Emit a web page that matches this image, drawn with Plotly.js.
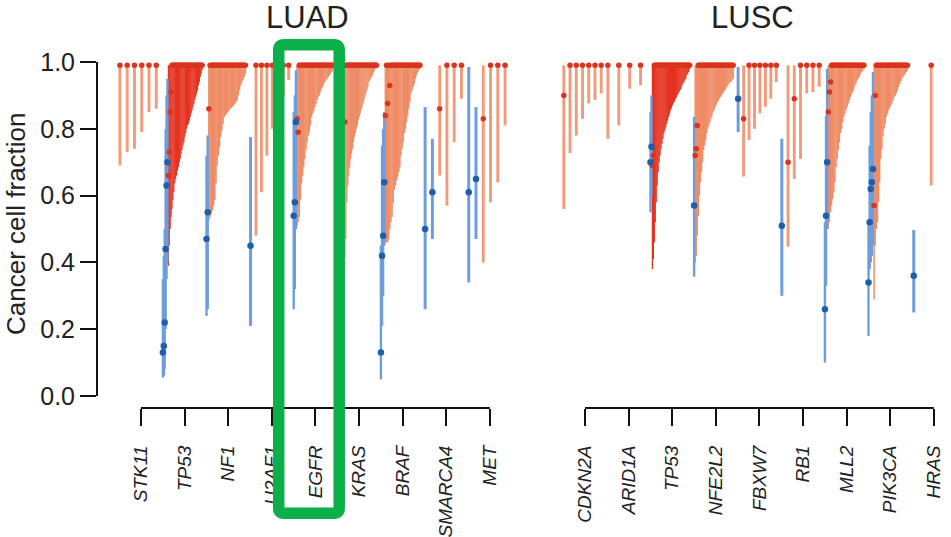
<!DOCTYPE html>
<html><head><meta charset="utf-8">
<script src="https://cdn.plot.ly/plotly-3.0.1.min.js"></script>
<style>html,body{margin:0;padding:0;background:#fff}#chart{width:951px;height:537px}</style>
</head><body><div id="chart"></div>
<script>
// ---------------- DATA ----------------
const clonalTop = 0.99;
const yTicks = [0, 0.2, 0.4, 0.6, 0.8, 1.0];

// LUAD
const luadGenes = ['STK11','TP53','NF1','U2AF1','EGFR','KRAS','BRAF','SMARCA4','MET'];
// subclonal mutations (blue): [estimate, lower, upper]
const luadSubclonal = [
  [],
  [[0.13,0.055,0.35],[0.15,0.06,0.42],[0.22,0.08,0.5],[0.44,0.2,0.8],[0.63,0.35,0.9],[0.70,0.4,0.95]],
  [[0.47,0.24,0.72],[0.55,0.26,0.78]],
  [[0.45,0.21,0.775]],
  [[0.54,0.26,0.85],[0.58,0.32,0.9],[0.82,0.5,0.975]],
  [],
  [[0.13,0.05,0.45],[0.42,0.21,0.75],[0.48,0.30,0.8],[0.64,0.45,0.85]],
  [[0.50,0.26,0.865],[0.61,0.47,0.77]],
  [[0.61,0.34,0.985],[0.65,0.47,0.865]]
];
// clonal mutations (red): lower bound of the interval (upper bound = clonalTop)
const luadClonalLow = [
  [0.69,0.73,0.74,0.79,0.85,0.86],
  [0.39,0.45,0.50,0.536,0.56,0.587,0.61,0.637,0.65,0.66,0.675,0.686,0.70,0.71,0.725,0.737,0.75,0.76,0.775,0.787,0.80,0.81,0.815,0.825,0.835,0.845,0.855,0.865,0.875,0.886,0.895,0.905,0.915,0.93,0.94,0.955,0.965,0.975],
  [0.527,0.535,0.545,0.555,0.57,0.587,0.637,0.69,0.72,0.745,0.775,0.795,0.815,0.835,0.84,0.845,0.85,0.855,0.86,0.862,0.866,0.87,0.875,0.88,0.886,0.90,0.915,0.93,0.94,0.945,0.955,0.965],
  [0.48,0.61,0.72,0.80,0.86,0.90,0.946],
  [0.51,0.52,0.536,0.587,0.637,0.66,0.686,0.71,0.737,0.76,0.78,0.79,0.81,0.835,0.845,0.855,0.865,0.875,0.886,0.895,0.90,0.91,0.92,0.925,0.935,0.94,0.945,0.95,0.955,0.96,0.965,0.97,0.975],
  [0.30,0.33,0.35,0.37,0.38,0.39,0.40,0.41,0.415,0.47,0.58,0.63,0.66,0.685,0.71,0.725,0.74,0.76,0.775,0.787,0.80,0.81,0.825,0.835,0.845,0.855,0.865,0.875,0.886,0.895,0.905,0.915,0.925,0.94,0.945,0.95,0.955,0.96,0.97,0.975,0.98,0.985],
  [0.46,0.46,0.46,0.47,0.50,0.52,0.536,0.577,0.617,0.63,0.645,0.656,0.67,0.686,0.72,0.74,0.76,0.787,0.80,0.82,0.84,0.86,0.88,0.905,0.915,0.925,0.935,0.95,0.96,0.97,0.975,0.98],
  [0.66,0.57,0.76,0.89],
  [0.40,0.58,0.64,0.81]
];
// clonal estimates below the top: [index in the gene's clonal list, estimate]
const luadClonalEst = [
  [], [[0,0.66],[1,0.73],[2,0.85],[3,0.91]], [[0,0.86]], [], [[0,0.83],[1,0.79]],
  [[8,0.82]], [[0,0.84],[2,0.876],[4,0.93]], [[0,0.86]], [[0,0.83]]
];

// LUSC
const luscGenes = ['CDKN2A','ARID1A','TP53','NFE2L2','FBXW7','RB1','MLL2','PIK3CA','HRAS'];
const luscSubclonal = [
  [],
  [],
  [[0.70,0.55,0.85],[0.746,0.6,0.9]],
  [[0.57,0.357,0.836]],
  [[0.89,0.79,0.985]],
  [[0.51,0.30,0.77]],
  [[0.26,0.10,0.52],[0.54,0.33,0.84],[0.70,0.50,0.98]],
  [[0.34,0.18,0.52],[0.52,0.38,0.75],[0.62,0.40,0.85],[0.64,0.42,0.90],[0.68,0.45,0.97]],
  [[0.36,0.25,0.497]]
];
const luscClonalLow = [
  [0.56,0.727,0.78,0.83,0.876,0.886,0.906],
  [0.77,0.81,0.92,0.93],
  [0.38,0.41,0.46,0.52,0.58,0.63,0.67,0.70,0.72,0.74,0.755,0.77,0.785,0.795,0.805,0.815,0.825,0.835,0.845,0.855,0.862,0.87,0.876,0.882,0.888,0.894,0.90,0.905,0.91,0.916,0.92,0.93,0.935,0.94,0.945,0.95,0.96,0.965,0.97,0.98],
  [0.40,0.42,0.48,0.54,0.60,0.64,0.67,0.70,0.737,0.75,0.765,0.787,0.80,0.81,0.82,0.83,0.84,0.85,0.856,0.865,0.872,0.88,0.885,0.89,0.895,0.90,0.905,0.91,0.915,0.92,0.925,0.93,0.935,0.94,0.94,0.945,0.95],
  [0.657,0.766,0.80,0.846,0.866,0.89,0.94],
  [0.447,0.65,0.71,0.906,0.91,0.926],
  [0.50,0.52,0.55,0.57,0.59,0.61,0.64,0.686,0.71,0.737,0.76,0.787,0.80,0.82,0.836,0.846,0.856,0.866,0.876,0.886,0.895,0.905,0.91,0.92,0.93,0.937,0.945,0.95,0.955,0.965,0.97,0.975,0.98],
  [0.29,0.45,0.50,0.52,0.58,0.64,0.71,0.74,0.777,0.80,0.815,0.836,0.845,0.855,0.862,0.87,0.876,0.885,0.895,0.90,0.906,0.915,0.925,0.935,0.942,0.95,0.955,0.96,0.965,0.97,0.975],
  [0.63]
];
const luscClonalEst = [
  [[0,0.90]], [], [[0,0.69],[1,0.72]], [[0,0.72],[1,0.74],[2,0.81]], [[0,0.83]],
  [[0,0.70],[1,0.89]], [[0,0.85],[1,0.91],[2,0.94]], [[0,0.57],[1,0.90]], []
];

// ---------------- STYLE / LAYOUT ----------------
const W = 951, H = 537;
const UNIT = 43.6;                 // pixels per gene slot
const px = v => v / W, py = v => 1 - v / H;
const C = {
  tp53: '#e5321f', salmonDense: '#ef8c66', salmonLight: '#f29a79',
  blueLine: '#6d9edb', blueDot: '#1f5faa', redDot: '#d9341f', ink: '#222'
};

function buildPanel(genes, sub, low, ests, xa) {
  const cl = {x:[], base:[], y:[], w:[], c:[]};
  const sb = {x:[], base:[], y:[], w:[]};
  const rd = {x:[], y:[]}, bd = {x:[], y:[]};
  genes.forEach((gene, g) => {
    const s = sub[g], c = low[g];
    const n = s.length + c.length;
    const dense = n > 12;
    const step = dense ? 0.92 / n : 1 / Math.max(n, 2.5);
    const em = {}; ests[g].forEach(([i, e]) => em[i] = e);
    s.forEach(([e, lo, hi], i) => {
      const x = g + (i + 0.1) * step;
      sb.x.push(x); sb.base.push(lo); sb.y.push(hi - lo); sb.w.push((dense ? 2.4 : 3) / UNIT);
      bd.x.push(x); bd.y.push(e);
    });
    c.forEach((lo, j) => {
      const x = g + (s.length + j + 0.1) * step;
      cl.x.push(x); cl.base.push(lo); cl.y.push(clonalTop - lo);
      cl.w.push(dense ? step * 1.35 : 2.9 / UNIT);
      cl.c.push(gene === 'TP53' ? C.tp53 : (dense ? C.salmonDense : C.salmonLight));
      rd.x.push(x); rd.y.push(em[j] !== undefined ? em[j] : clonalTop);
    });
  });
  return [
    {type:'bar', xaxis:xa, yaxis:'y', x:cl.x, base:cl.base, y:cl.y, width:cl.w,
     marker:{color:cl.c, line:{width:0}}, hoverinfo:'skip'},
    {type:'bar', xaxis:xa, yaxis:'y', x:sb.x, base:sb.base, y:sb.y, width:sb.w,
     marker:{color:C.blueLine, line:{width:0}}, hoverinfo:'skip'},
    {type:'scatter', mode:'markers', xaxis:xa, yaxis:'y', x:rd.x, y:rd.y, cliponaxis:false,
     marker:{color:C.redDot, size:5.5}, hoverinfo:'skip'},
    {type:'scatter', mode:'markers', xaxis:xa, yaxis:'y', x:bd.x, y:bd.y, cliponaxis:false,
     marker:{color:C.blueDot, size:6.5}, hoverinfo:'skip'}
  ];
}

const traces = [
  ...buildPanel(luadGenes, luadSubclonal, luadClonalLow, luadClonalEst, 'x'),
  ...buildPanel(luscGenes, luscSubclonal, luscClonalLow, luscClonalEst, 'x2')
];

const geneFont = {family:'Liberation Sans, Arial, sans-serif', size:19, color:C.ink, style:'italic'};
function geneAxis(genes, domL, domR, origin) {
  return {
    domain:[px(domL), px(domR)], range:[(domL - origin) / UNIT, (domR - origin) / UNIT],
    anchor:'free', position:py(408),
    tickmode:'array', tickvals:genes.map((_, i) => i + 0.5), ticktext:genes,
    tickangle:-90, ticks:'outside', ticklen:17, tickwidth:2, tickcolor:'#111',
    ticklabelstandoff:12, tickfont:geneFont,
    showline:false, showgrid:false, zeroline:false, fixedrange:true, automargin:false
  };
}

function roundRect(x0, y0, x1, y1, r) {
  const P = (x, y) => px(x) + ',' + py(y);
  return 'M' + P(x0 + r, y0) + ' L' + P(x1 - r, y0) + ' Q' + P(x1, y0) + ' ' + P(x1, y0 + r) +
    ' L' + P(x1, y1 - r) + ' Q' + P(x1, y1) + ' ' + P(x1 - r, y1) +
    ' L' + P(x0 + r, y1) + ' Q' + P(x0, y1) + ' ' + P(x0, y1 - r) +
    ' L' + P(x0, y0 + r) + ' Q' + P(x0, y0) + ' ' + P(x0 + r, y0) + ' Z';
}

const layout = {
  width:W, height:H, margin:{l:0, r:0, t:0, b:0},
  paper_bgcolor:'#fff', plot_bgcolor:'rgba(0,0,0,0)',
  showlegend:false, barmode:'overlay',
  font:{family:'Liberation Sans, Arial, sans-serif', color:C.ink},
  xaxis: geneAxis(luadGenes, 98, 515, 119.2),
  xaxis2: geneAxis(luscGenes, 550, 951, 563.2),
  yaxis:{
    domain:[py(396), py(62)], range:[0, 1], anchor:'x',
    tickmode:'array', tickvals:yTicks, tickformat:'.1f',
    ticks:'outside', ticklen:16, tickwidth:2, tickcolor:'#111',
    showline:true, linewidth:2, linecolor:'#111',
    showgrid:false, zeroline:false, fixedrange:true, automargin:false,
    tickfont:{family:'Liberation Sans, Arial, sans-serif', size:25, color:C.ink}
  },
  shapes:[
    {type:'line', xref:'x', yref:'paper', x0:0.5, x1:8.5, y0:py(408), y1:py(408), line:{color:'#111', width:2}},
    {type:'line', xref:'x2', yref:'paper', x0:0.5, x1:8.5, y0:py(408), y1:py(408), line:{color:'#111', width:2}},
    {type:'path', xref:'paper', yref:'paper', path:roundRect(278.7, 44.7, 339.2, 513.3, 5),
     line:{color:'#0cb04a', width:11.5}, fillcolor:'rgba(0,0,0,0)'}
  ],
  annotations:[
    {text:'LUAD', xref:'paper', yref:'paper', x:px(307), y:py(17), xanchor:'center', yanchor:'middle',
     showarrow:false, font:{size:31, color:C.ink}},
    {text:'LUSC', xref:'paper', yref:'paper', x:px(752), y:py(17), xanchor:'center', yanchor:'middle',
     showarrow:false, font:{size:31, color:C.ink}},
    {text:'Cancer cell fraction', xref:'paper', yref:'paper', x:px(16), y:py(224), textangle:-90,
     xanchor:'center', yanchor:'middle', showarrow:false, font:{size:26, color:C.ink}}
  ]
};

Plotly.newPlot('chart', traces, layout, {staticPlot:true, displayModeBar:false});
</script></body></html>
